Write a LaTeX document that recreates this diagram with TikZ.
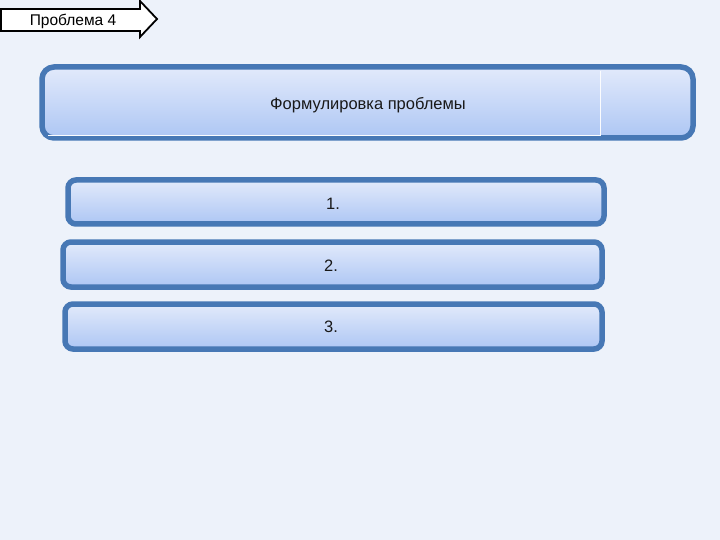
\documentclass[tikz,border=0pt]{standalone}
\usepackage{fontspec}
\setmainfont{Liberation Sans}
\definecolor{bg}{HTML}{EDF2FA}
\definecolor{bord}{HTML}{4778B5}
\definecolor{ftop}{HTML}{E2EAFB}
\definecolor{fbot}{HTML}{ADC6F4}
\tikzset{
  panel/.style={draw=bord, line width=5.5pt, top color=ftop, bottom color=fbot, rounded corners=#1},
  lbl/.style={font=\fontsize{16.5}{19}\selectfont, text=black!90},
  taglbl/.style={font=\fontsize{15.5}{18}\selectfont, text=black},
}
\begin{document}
\begin{tikzpicture}[x=1pt,y=-1pt]
\fill[bg] (0,0) rectangle (720,540);
\useasboundingbox (0,0) rectangle (720,540);
% tag arrow
\draw[fill=white, line width=1.8pt, line join=miter] (0.9,9) -- (140,9) -- (140,1) -- (157,19) -- (140,37) -- (140,31) -- (0.9,31) -- cycle;
\node[taglbl, anchor=center] (tag) at (73,21) {Проблема 4};
% top panel
\draw[panel=12pt] (42,67) rectangle (693,138);
\draw[white!85!ftop, line width=0.8pt] (48,135) -- (600,135) -- (600,71);
\node[lbl] (title) at (368,105) {Формулировка проблемы};
% item panels
\draw[panel=8pt] (68,180) rectangle (604,224);
\node[lbl] (i1) at (333,204) {1.};
\draw[panel=8pt] (63,242) rectangle (602,287);
\node[lbl] (i2) at (331,266) {2.};
\draw[panel=8pt] (65,304) rectangle (602,349);
\node[lbl] (i3) at (331,327) {3.};
\end{tikzpicture}
\end{document}
